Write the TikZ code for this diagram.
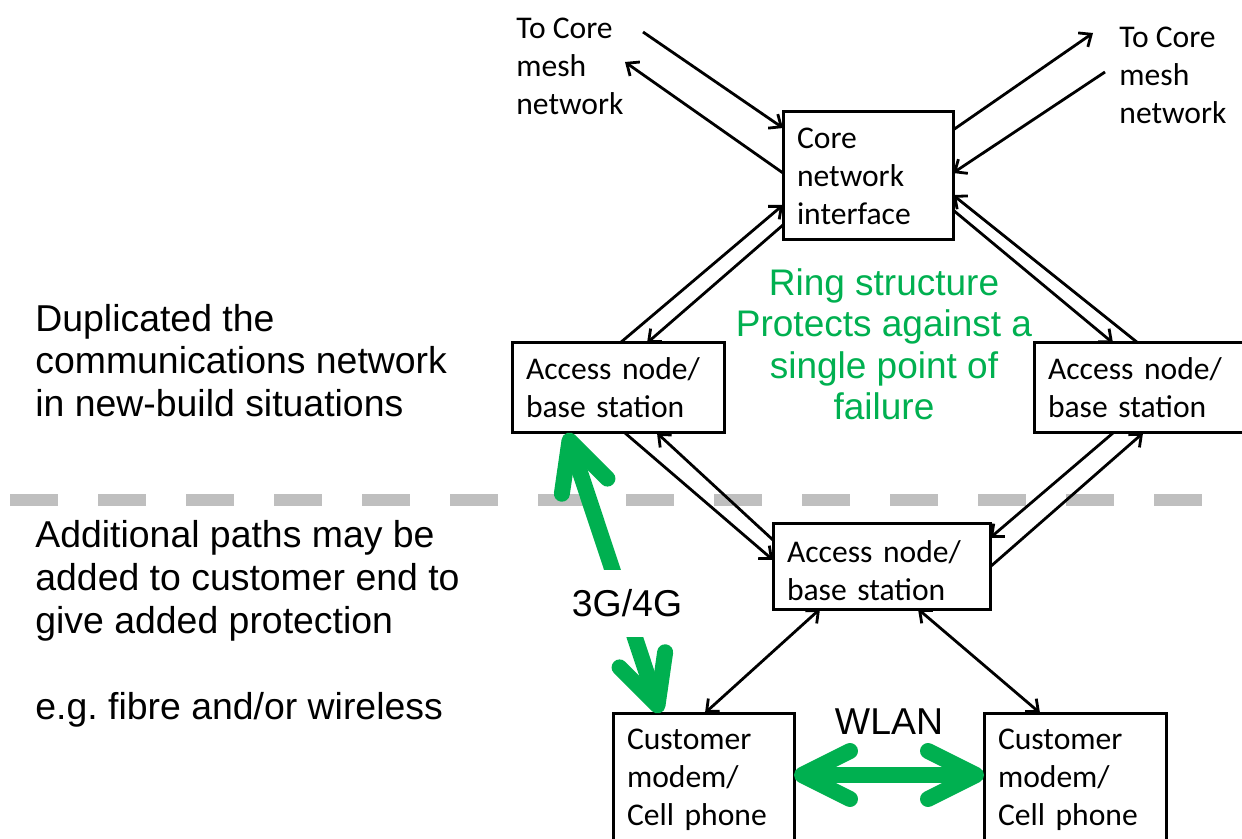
\documentclass[tikz,border=0pt]{standalone}
\usepackage{fontspec}
\newfontfamily\arialf{Liberation Sans}
\newfontfamily\calf{Carlito}
\usetikzlibrary{arrows.meta}
\definecolor{ringgreen}{HTML}{00B050}
\definecolor{dashgray}{HTML}{BFBFBF}
\newcommand\myboxfont{\calf\fontsize{15.8}{19}\selectfont}
\newcommand\mybigfont{\arialf\fontsize{18.7}{21.5}\selectfont}
\newcommand\mygreenfont{\arialf\fontsize{18.5}{20.8}\selectfont}
\frenchspacing
\begin{document}
\begin{tikzpicture}[x=0.5pt,y=-0.5pt,
  box/.style={draw, line width=1.5pt, rectangle, anchor=north west, align=left,
    inner xsep=7pt, inner ysep=0pt, outer sep=0pt, font=\myboxfont},
  link/.style={line width=1.4pt, >={Straight Barb[length=5pt,width=8.5pt]}, ->},
  link2/.style={line width=1.4pt, >={Straight Barb[length=5pt,width=8.5pt]}, <->},
  garrow/.style={draw=ringgreen, line width=8pt, line cap=round,
    >={Straight Barb[round,length=24pt,width=24pt]}, <->},
  lbl/.style={inner sep=0pt, font=\myboxfont, align=left, anchor=base west},
  bigtxt/.style={inner sep=0pt, font=\mybigfont, align=left, anchor=base west},
]
\fill[white] (0,0) rectangle (1242,839);
\useasboundingbox (0,0) rectangle (1242,839);

% separator
\coordinate (sepL) at (10,500);
\coordinate (sepR) at (1242,500);
\draw[dashgray, line width=6pt, dash pattern=on 24pt off 20pt] (sepL) -- (sepR);

% boxes
\node[box, text width=71pt, minimum height=64pt] (core) at (783,112) {Core\\network\\interface};
\node[box, text width=92pt, minimum height=45pt] (la) at (512,343) {Access node/\\base station};
\node[box, text width=92pt, minimum height=45pt] (ra) at (1034,343) {Access node/\\base station};
\node[box, text width=94.5pt, minimum height=43pt] (ba) at (773,523) {\rule{0pt}{16pt}Access node/\\base station};
\node[box, text width=76.5pt, minimum height=67pt] (cl) at (613,713) {Customer\\modem/\\Cell phone};
\node[box, text width=77pt, minimum height=67pt] (cr) at (984,713) {Customer\\modem/\\Cell phone};

% texts (base anchor = baseline of last line)
\node[lbl] (tcl) at (516,115) {To Core\\mesh\\network};
\node[lbl] (tcr) at (1119,124) {To Core\\mesh\\network};
\node[bigtxt] (dup) at (35,417) {Duplicated the\\communications network\\in new-build situations};
\node[bigtxt] (add) at (35,719) {Additional paths may be\\added to customer end to\\give added protection\\[21.5pt]e.g. fibre and/or wireless};
\node[inner sep=0pt, font=\mygreenfont, text=ringgreen, align=center, anchor=base] (ring) at (884,420)
  {Ring structure\\Protects against a\\single point of\\failure};
\node[font=\mybigfont, inner sep=0pt] (wlan) at (889,722) {WLAN};

% free ends
\coordinate (tl1) at (643,32);
\coordinate (tl2) at (625,62);
\coordinate (tr1) at (1093,33);
\coordinate (tr2) at (1105,72);

% black links
\draw[link] (tl1) -- ([yshift=-8pt]core.north west);
\draw[link] ([yshift=-30.5pt]core.north west) -- (tl2);
\draw[link] ([yshift=-9pt]core.north east) -- (tr1);
\draw[link] (tr2) -- ([yshift=-30.5pt]core.north east);
\draw[link] ([xshift=54pt]la.north west) -- ([yshift=-46.5pt]core.north west);
\draw[link] ([yshift=-56.5pt]core.north west) -- ([xshift=67.5pt]la.north west);
\draw[link] ([yshift=-49pt]core.north east) -- ([xshift=39.5pt]ra.north west);
\draw[link] ([xshift=52pt]ra.north west) -- ([yshift=-41.5pt]core.north east);
\draw[link] ([xshift=56.5pt]la.south west) -- ([yshift=-18.5pt]ba.north west);
\draw[link] ([yshift=-8.5pt]ba.north west) -- ([xshift=72.5pt]la.south west);
\draw[link] ([xshift=39.5pt]ra.south west) -- ([yshift=-7.5pt]ba.north east);
\draw[link] ([yshift=-22pt]ba.north east) -- ([xshift=54.5pt]ra.south west);
\draw[link2] ([xshift=23.5pt]ba.south west) -- ([xshift=46pt]cl.north west);
\draw[link2] ([xshift=72.5pt]ba.south west) -- ([xshift=28pt]cr.north west);

% green links
\draw[garrow] ([xshift=27.5pt]la.south west) -- ([xshift=23.5pt]cl.north west);
\node[fill=white, font=\mybigfont, inner xsep=4pt, inner ysep=0pt, minimum height=33.5pt] (g34) at (627,603.5) {3G/4G};
\draw[garrow] ([yshift=-31pt]cl.north east) -- ([yshift=-31pt]cr.north west);
\end{tikzpicture}
\end{document}
